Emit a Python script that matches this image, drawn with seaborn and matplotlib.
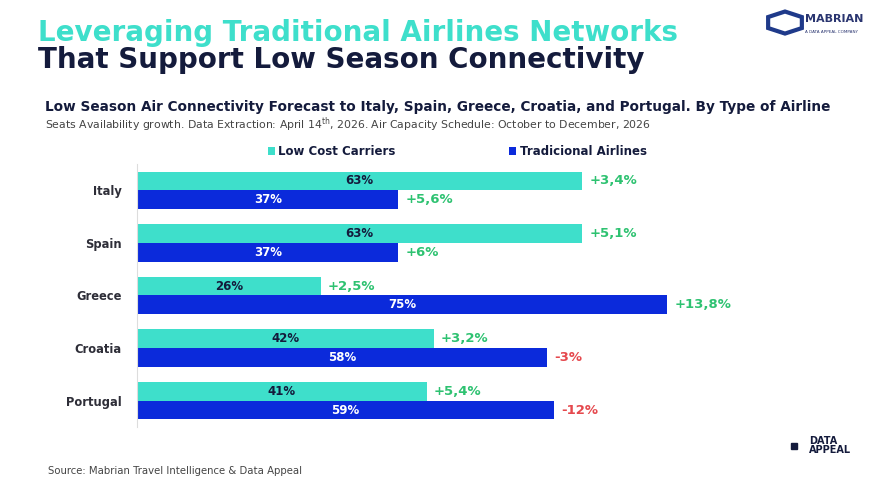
import numpy as np
import pandas as pd
import matplotlib.pyplot as plt
import seaborn as sns
from matplotlib.patches import RegularPolygon, Rectangle

# ---------------------------------------------------------------------------
# Data
# ---------------------------------------------------------------------------
countries = ["Italy", "Spain", "Greece", "Croatia", "Portugal"]
airline_types = ["Low Cost Carriers", "Tradicional Airlines"]
lcc_share = [63, 63, 26, 42, 41]
trad_share = [37, 37, 75, 58, 59]
lcc_growth = ["+3,4%", "+5,1%", "+2,5%", "+3,2%", "+5,4%"]
trad_growth = ["+5,6%", "+6%", "+13,8%", "-3%", "-12%"]

TEAL = "#3EDFCB"
BLUE = "#0B2ADB"
NAVY = "#141B3C"
GREEN = "#2EC271"
RED = "#E5484D"

df = pd.DataFrame({
    "country": countries * 2,
    "type": [airline_types[0]] * len(countries) + [airline_types[1]] * len(countries),
    "share": lcc_share + trad_share,
    "growth": lcc_growth + trad_growth,
})

sns.set_theme(style="white")
plt.rcParams["font.family"] = ["DejaVu Sans"]

fig = plt.figure(figsize=(8.85, 5.01), dpi=100)
ax = fig.add_axes([0.1548, 0.1477, 0.793, 0.525])

sns.barplot(
    data=df, y="country", x="share", hue="type", order=countries,
    hue_order=airline_types, palette=[TEAL, BLUE], width=0.71,
    orient="h", ax=ax, saturation=1, edgecolor="none",
)

ax.set_xlim(0, 99.3)
ax.set_xlabel("")
ax.set_ylabel("")
ax.set_xticks([])
ax.tick_params(axis="y", length=0, pad=11)
for lbl in ax.get_yticklabels():
    lbl.set_fontsize(8.3)
    lbl.set_fontweight("bold")
    lbl.set_color("#2E2E38")
for side in ["top", "right", "bottom"]:
    ax.spines[side].set_visible(False)
ax.spines["left"].set_color("#DDDDDD")
ax.spines["left"].set_linewidth(0.8)

# values inside bars + growth labels at bar ends
for ci, container in enumerate(ax.containers):
    growth = lcc_growth if ci == 0 else trad_growth
    for bar, g in zip(container, growth):
        w = bar.get_width()
        yc = bar.get_y() + bar.get_height() / 2
        ax.text(w / 2, yc, f"{w:.0f}%", ha="center", va="center",
                fontsize=8.5, fontweight="bold",
                color=NAVY if ci == 0 else "white")
        ax.text(w + 1.0, yc, g, ha="left", va="center", fontsize=9.5,
                fontweight="bold", color=RED if g.startswith("-") else GREEN)

handles, labels = ax.get_legend_handles_labels()
ax.legend(handles, labels, ncol=2, loc="lower left", bbox_to_anchor=(0.178, 1.0),
          frameon=False, handlelength=0.6, handleheight=0.6, handletextpad=0.3,
          columnspacing=9.6, prop={"size": 8.5, "weight": "bold"},
          labelcolor=NAVY, borderaxespad=0.1)

# ---------------------------------------------------------------------------
# Titles and footer
# ---------------------------------------------------------------------------
fig.text(0.043, 0.935, "Leveraging Traditional Airlines Networks", fontsize=20,
         fontweight="heavy", color=TEAL, va="center", ha="left")
fig.text(0.043, 0.88, "That Support Low Season Connectivity", fontsize=20,
         fontweight="heavy", color=NAVY, va="center", ha="left")
fig.text(0.051, 0.786,
         "Low Season Air Connectivity Forecast to Italy, Spain, Greece, Croatia, and Portugal. By Type of Airline",
         fontsize=9.85, fontweight="bold", color=NAVY, va="center", ha="left")
fig.text(0.051, 0.752,
         r"Seats Availability growth. Data Extraction: April 14$^{\mathrm{th}}$, 2026. Air Capacity Schedule: October to December, 2026",
         fontsize=7.8, color="#444444", va="center", ha="left")
fig.text(0.054, 0.06, "Source: Mabrian Travel Intelligence & Data Appeal",
         fontsize=7.3, color="#444444", va="center", ha="left")

# logos (simple text marks)
fig.patches.append(RegularPolygon((0.887, 0.955), 6, radius=0.022, orientation=0,
                                  facecolor="none", edgecolor="#1F3A8A", lw=3,
                                  transform=fig.transFigure))
fig.text(0.91, 0.962, "MABRIAN", fontsize=8, fontweight="bold", color="#2A3570",
         va="center", ha="left")
fig.text(0.91, 0.936, "A DATA APPEAL COMPANY", fontsize=3, color="#2A3570",
         va="center", ha="left")
fig.patches.append(Rectangle((0.894, 0.103), 0.006, 0.012, color=NAVY,
                             transform=fig.transFigure))
fig.text(0.914, 0.11, "DATA\nAPPEAL", fontsize=7, fontweight="heavy", color=NAVY,
         va="center", ha="left", linespacing=0.9)

fig.savefig("out.png", dpi=100)
